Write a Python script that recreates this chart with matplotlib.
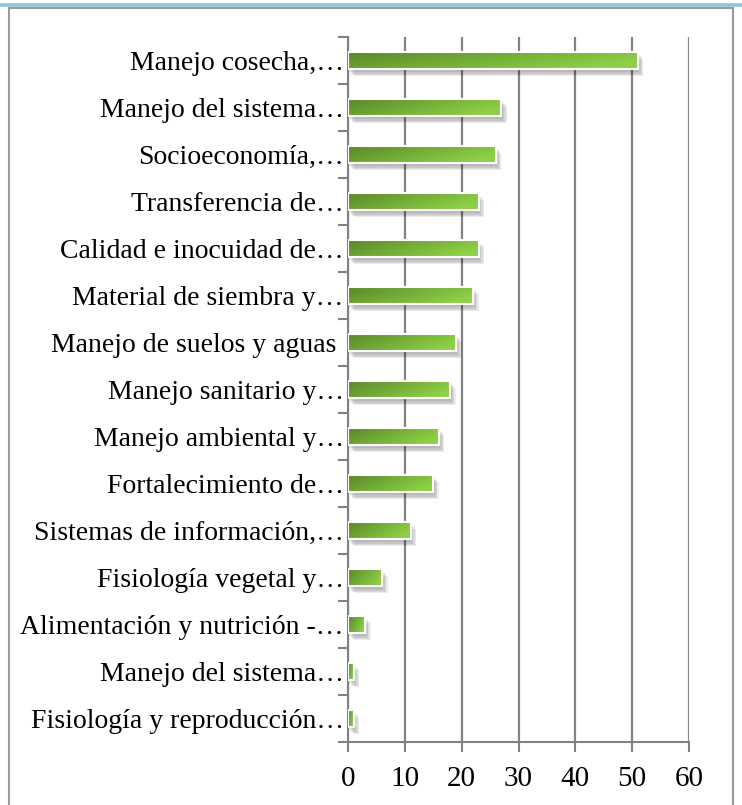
import numpy as np
import matplotlib
matplotlib.use("Agg")
from matplotlib import pyplot as plt
from matplotlib import patheffects as pe
from matplotlib.patches import Rectangle
from matplotlib.lines import Line2D

categorias = [
    "Manejo cosecha,\u2026",
    "Manejo del sistema\u2026",
    "Socioeconomía,\u2026",
    "Transferencia de\u2026",
    "Calidad e inocuidad de\u2026",
    "Material de siembra y\u2026",
    "Manejo de suelos y aguas ",
    "Manejo sanitario y\u2026",
    "Manejo ambiental y\u2026",
    "Fortalecimiento de\u2026",
    "Sistemas de información,\u2026",
    "Fisiología vegetal y\u2026",
    "Alimentación y nutrición -\u2026",
    "Manejo del sistema\u2026",
    "Fisiología y reproducción\u2026",
]
valores = [51, 27, 26, 23, 23, 22, 19, 18, 16, 15, 11, 6, 3, 1, 1]
xticks = [0, 10, 20, 30, 40, 50, 60]

plt.rcParams['font.family'] = ['Liberation Serif', 'DejaVu Serif']
gris = "#828282"

fig = plt.figure(figsize=(7.42, 8.05), dpi=100)
W, H = 742, 805

# marco exterior y franja azul superior
fig.add_artist(Rectangle((9 / W, -0.01), 724 / W, 1 - 8 / H + 0.01, transform=fig.transFigure,
                         fill=False, edgecolor="#9a9a9a", lw=1.5))
fig.add_artist(Line2D([0, 1], [1 - 5.5 / H, 1 - 5.5 / H], transform=fig.transFigure,
                      color="#8ac6d6", lw=2.6))

ax = fig.add_axes([348 / W, 1 - 742 / H, 341 / W, 705 / H])
y = np.arange(len(valores))
alto = 0.38

# sombra suave y base de las barras
sombra = [pe.SimplePatchShadow(offset=(k, -k - 1), shadow_rgbFace="black", alpha=0.08)
          for k in (1, 2, 3, 4)]
base = ax.barh(y, valores, height=alto, color="white", edgecolor="white", lw=1.5, zorder=2,
               path_effects=sombra + [pe.Normal()])

# degradado verde
gx = np.linspace(0, 1, 64)
gy = np.linspace(0, 1, 16)
GX, GY = np.meshgrid(gx, gy)
t = np.clip(0.8 * GX + 0.35 * GY, 0, 1)
c0 = np.array([0x58, 0x88, 0x28]) / 255
c1 = np.array([0x8e, 0xd0, 0x46]) / 255
grad = c0[None, None, :] * (1 - t[..., None]) + c1[None, None, :] * t[..., None]
for b, v, yi in zip(base, valores, y):
    im = ax.imshow(grad, extent=[0, v, yi + alto / 2, yi - alto / 2], aspect="auto",
                   origin="upper", zorder=3, interpolation="bilinear")
    im.set_clip_path(b)
ax.barh(y, valores, height=alto, color="none", edgecolor="white", lw=1.5, zorder=4)

ax.set_xlim(0, 60)
ax.set_ylim(len(valores) - 0.5, -0.5)
ax.set_aspect("auto")

ax.set_xticks(xticks)
ax.set_xticklabels([str(v) for v in xticks], fontsize=21)
ax.set_yticks(y)
ax.set_yticklabels(categorias, fontsize=20)
ax.set_yticks(np.arange(-0.5, len(valores), 1), minor=True)
ax.tick_params(axis="y", which="major", length=0, pad=3)
ax.tick_params(axis="y", which="minor", length=7, width=1.5, color=gris, direction="out")
ax.tick_params(axis="x", length=7, width=1.5, color=gris, direction="out", pad=10)

ax.xaxis.grid(True, color=gris, lw=1.6, zorder=0)
ax.set_axisbelow(True)
for s in ["top", "right"]:
    ax.spines[s].set_visible(False)
for s in ["left", "bottom"]:
    ax.spines[s].set_color(gris)
    ax.spines[s].set_linewidth(1.5)

fig.savefig("out.png", dpi=100)
